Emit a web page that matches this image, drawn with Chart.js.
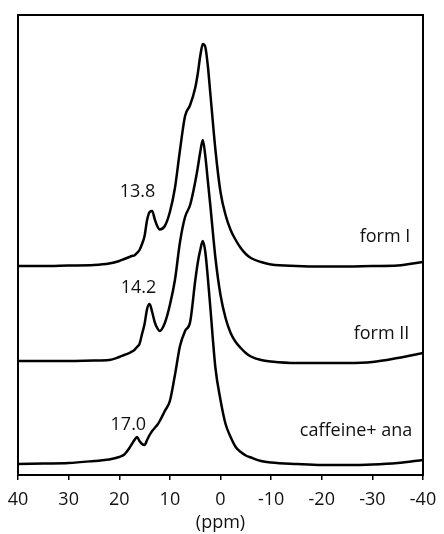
<!DOCTYPE html>
<html>
<head>
<meta charset="utf-8">
<script src="https://cdn.jsdelivr.net/npm/chart.js@4/dist/chart.umd.min.js"></script>
<style>
  html, body { margin: 0; padding: 0; background: #fff; }
  #wrap { width: 444px; height: 534px; }
</style>
</head>
<body>
<div id="wrap"><canvas id="c" width="444" height="534"></canvas></div>
<script>
// chemical shift (ppm)
const ppm = [40,35,30,25,22,20,19,18,17.5,17,16.5,16,15.5,15,14.5,14,13.5,13,12.5,12,11,10,9,8,7,6,5,4.5,4,3.5,3,2.5,2,1,0,-1,-2,-3,-4,-5,-6,-8,-10,-15,-20,-25,-30,-35,-40];

// intensities (arbitrary units) above each trace's own baseline
const formI = [0,0,0.5,1,2.5,5,7,9,10,10.5,13,16,22,30,46,54,55,47,40,36.5,40,54,78,116,150,161,178,192,210,222,219,200,172,116,74,51,36,26,18,12,8,4,1.5,0,-0.5,-0.5,0,0.5,4];
const formII = [0,0,0,0.5,1,4,6,8,9.5,11,14,17,27,37,52,57,49,39,33,30,38,56,81,119,144,156,179,193,209,221,205,180,155,103,66,43,28,19,13,8,4.5,1,-0.5,-2,-2,-2,-1,3,8];
const caffeineAna = [-1,-0.5,0,2,3.5,6,8.5,15,19,23,26,22,19,18,23,28,32,35,38,42,52,62,88,117,132,141,182,200,213,222,211,185,155,95,63,39,26,16,11,7.5,5.5,2,0.5,-1,-2,-2,-1.5,0,3];

// vertical stacking offsets of the three traces
const traceNames = ['form I', 'form II', 'caffeine+ ana'];
const traceOffsets = [209, 114, 12];

// x-axis ticks
const xTicks = [40,30,20,10,0,-10,-20,-30,-40];

// annotations
const noteTexts = ['13.8', '14.2', '17.0', 'form I', 'form II', 'caffeine+ ana'];
const noteX = [16.4, 16.2, 18.2, -37.5, -37.3, -37.9];
const noteY = [283, 187, 50, 238, 141, 44];
const noteAlign = ['center', 'center', 'center', 'right', 'right', 'right'];

const FONT = '"Open Sans", "DejaVu Sans", sans-serif';

function buildPoints(values, offset) {
  return ppm.map((p, i) => ({ x: p, y: values[i] + offset }));
}

const series = [formI, formII, caffeineAna];
const datasets = series.map((vals, k) => ({
  label: traceNames[k],
  data: buildPoints(vals, traceOffsets[k]),
  borderColor: '#000',
  borderWidth: 2.5,
  pointRadius: 0,
  fill: false,
  cubicInterpolationMode: 'monotone'
}));

const framePlugin = {
  id: 'frame',
  afterDatasetsDraw(chart) {
    const { ctx, chartArea: a, scales } = chart;
    ctx.save();
    ctx.strokeStyle = '#000';
    ctx.lineWidth = 2;
    ctx.strokeRect(a.left, a.top, a.right - a.left, a.bottom - a.top);
    ctx.fillStyle = '#111';
    ctx.font = '18px ' + FONT;
    ctx.textBaseline = 'middle';
    noteTexts.forEach((t, i) => {
      ctx.textAlign = noteAlign[i];
      ctx.fillText(t, scales.x.getPixelForValue(noteX[i]), scales.y.getPixelForValue(noteY[i]));
    });
    ctx.restore();
  }
};

new Chart(document.getElementById('c'), {
  type: 'line',
  data: { datasets },
  options: {
    responsive: false,
    animation: false,
    devicePixelRatio: 1,
    layout: { padding: { left: 18, right: 21, top: 15, bottom: 0 } },
    plugins: { legend: { display: false }, tooltip: { enabled: false } },
    scales: {
      x: {
        type: 'linear',
        min: -40, max: 40,
        reverse: true,
        afterBuildTicks(axis) { axis.ticks = xTicks.map(v => ({ value: v })); },
        afterFit(axis) { axis.paddingLeft = 0; axis.paddingRight = 0; axis.height = 59; },
        ticks: { color: '#111', font: { family: FONT, size: 18 }, padding: 9, maxRotation: 0 },
        grid: { drawOnChartArea: false, drawTicks: true, tickLength: 5, color: '#000', lineWidth: 1.5 },
        border: { display: true, color: '#000', width: 2 },
        title: { display: true, text: '(ppm)', color: '#111', font: { family: FONT, size: 18 }, padding: { top: 0, bottom: 0 } }
      },
      y: {
        type: 'linear',
        min: 0, max: 460,
        display: false
      }
    }
  },
  plugins: [framePlugin]
});
</script>
</body>
</html>
